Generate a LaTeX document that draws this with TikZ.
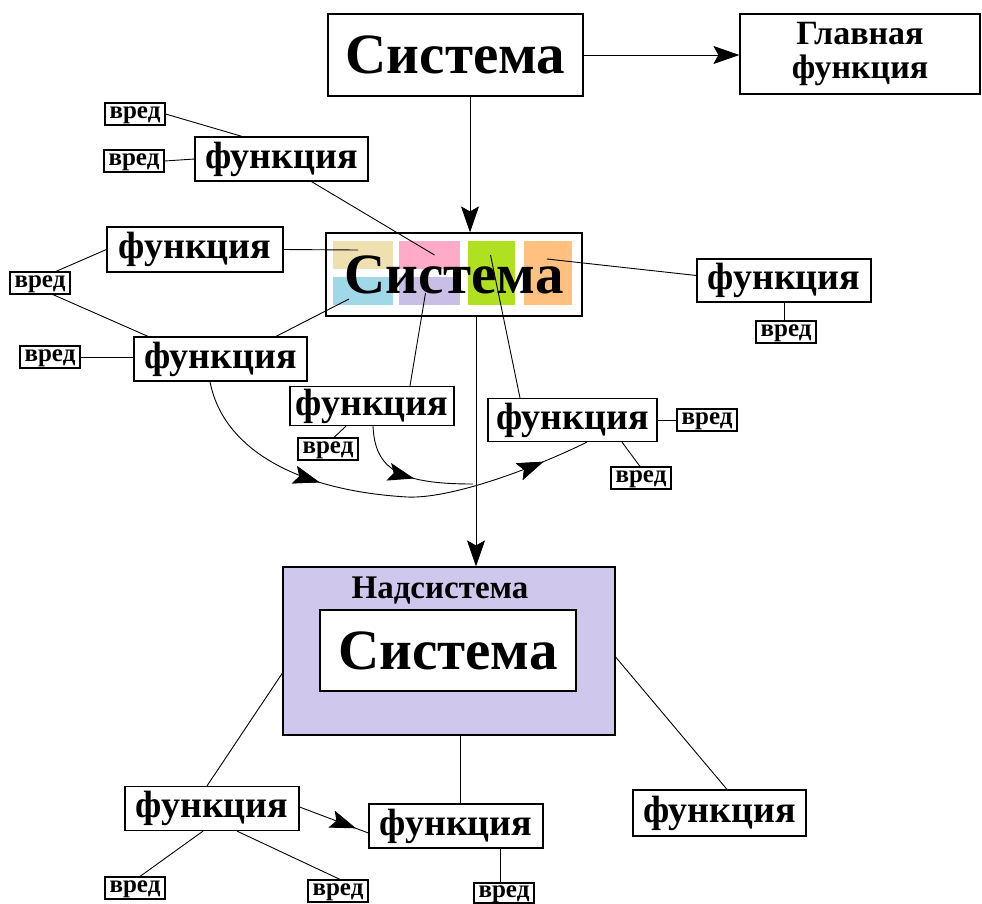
\documentclass[tikz,border=0pt]{standalone}
\usepackage{fontspec}
\setmainfont{Liberation Serif}
\usetikzlibrary{arrows.meta,calc,decorations.markings}

\definecolor{parttan}{RGB}{238,224,176}
\definecolor{partpink}{RGB}{255,170,200}
\definecolor{partgreen}{RGB}{176,224,32}
\definecolor{partorange}{RGB}{255,192,128}
\definecolor{partblue}{RGB}{160,216,232}
\definecolor{partlav}{RGB}{200,190,230}
\definecolor{superlav}{RGB}{208,200,236}

\tikzset{
  sysnode/.style={draw, line width=1.2pt, inner sep=0pt, font=\bfseries\fontsize{57}{60}\selectfont},
  funcnode/.style={draw, line width=1.2pt, inner sep=0pt, minimum width=173pt, minimum height=44pt, font=\bfseries\fontsize{38}{40}\selectfont},
  harmnode/.style={draw, line width=1.2pt, inner sep=0pt, minimum width=60pt, minimum height=22pt, text height=11pt, text depth=2pt, font=\bfseries\fontsize{25}{26}\selectfont},
  part/.style={inner sep=0pt, minimum height=28pt},
  link/.style={black, line width=0.9pt},
  bigtip/.style={-{Stealth[length=26pt, width=18pt, inset=5pt]}},
  midtip/.style={postaction={decorate}, decoration={markings, mark=at position #1 with {\arrow{Stealth[length=26pt, width=18pt, inset=5pt]}}}}
}

\begin{document}
\begin{tikzpicture}[x=1pt, y=-1pt]
  \useasboundingbox (0,0) rectangle (982,903);

  \node[sysnode, minimum width=255pt, minimum height=82pt] (sys) at (455.5,55) {Система};
  \node[draw, line width=1.2pt, minimum width=240pt, minimum height=80pt, align=center,
        font=\bfseries\fontsize{34}{34}\selectfont] (mainf) at (860,54) {Главная\\функция};

  \node[part, fill=parttan, minimum width=60pt] (ptan) at (363,255) {};
  \node[part, fill=partblue, minimum width=60pt] (pblue) at (363,291) {};
  \node[part, fill=partpink, minimum width=61pt] (ppink) at (429.5,255) {};
  \node[part, fill=partlav, minimum width=61pt] (plav) at (429.5,291) {};
  \node[part, fill=partgreen, minimum width=47pt, minimum height=64pt] (pgreen) at (491.5,273) {};
  \node[part, fill=partorange, minimum width=48pt, minimum height=64pt] (porange) at (548,273) {};
  \node[sysnode, minimum width=256pt, minimum height=83pt] (syscore) at (454,274.5) {Система};

  \node[funcnode] (f1) at (281.5,159) {функция};
  \node[funcnode, minimum width=176pt, minimum height=45pt] (f2) at (195,249.5) {функция};
  \node[funcnode] (f3) at (220.5,359) {функция};
  \node[funcnode, minimum width=164pt, minimum height=39pt] (f4) at (372,406) {функция};
  \node[funcnode, minimum width=169pt, minimum height=43pt] (f5) at (572.5,420) {функция};
  \node[funcnode, minimum width=174pt, minimum height=43pt] (f6) at (784,280.5) {функция};

  \node[harmnode] (h1a) at (135,114) {вред};
  \node[harmnode] (h1b) at (134,161) {вред};
  \node[harmnode] (h2) at (40,283) {вред};
  \node[harmnode] (h3) at (50,357) {вред};
  \node[harmnode] (h4) at (328,449) {вред};
  \node[harmnode] (h5a) at (707,420) {вред};
  \node[harmnode] (h5b) at (641,478) {вред};
  \node[harmnode] (h6) at (786,332) {вред};

  \node[draw, line width=1.2pt, fill=superlav, minimum width=332pt, minimum height=168pt] (super) at (449,651) {};
  \node[font=\bfseries\fontsize{33}{34}\selectfont] (supertitle) at (440,591) {Надсистема};
  \node[sysnode, fill=white, minimum width=256pt, minimum height=81pt] (sysin) at (448,650.5) {Система};

  \node[funcnode, minimum width=174pt] (f7) at (212,808.5) {функция};
  \node[funcnode, minimum width=174pt] (f8) at (456,826) {функция};
  \node[funcnode, minimum height=46pt] (f9) at (719.5,813) {функция};

  \node[harmnode] (h7a) at (135,888) {вред};
  \node[harmnode] (h7b) at (338,891) {вред};
  \node[harmnode, minimum height=20pt] (h8) at (504,893) {вред};

  \draw[link, bigtip] (sys.east) -- (sys.east -| mainf.west);
  \draw[link, bigtip] ([xshift=14.5pt]sys.south) -- ([xshift=16pt]syscore.north);
  \draw[link, bigtip] ([xshift=22pt]syscore.south) -- ([xshift=27pt]super.north);

  \draw[link] (h1a.east) -- ([xshift=-39.5pt]f1.north);
  \draw[link] (h1b.east) -- (f1.west);
  \draw[link] ([xshift=30pt]f1.south) -- ($(ppink.center)+(5,0)$);
  \draw[link] (f2.east) -- ($(ptan.center)+(-5,-5)$);
  \draw[link] ([xshift=16pt]h2.north) -- (f2.west);
  \draw[link] ([xshift=13pt]h2.south) -- ([xshift=-72.5pt]f3.north);
  \draw[link] (h3.east) -- (h3.east -| f3.west);
  \draw[link] ([xshift=55.5pt]f3.north) -- ($(pblue.center)+(-14,8)$);
  \draw[link] ([xshift=38pt]f4.north) -- ($(plav.center)+(-4,2)$);
  \draw[link] ([xshift=-26pt]f4.south) -- ([xshift=6pt]h4.north);
  \draw[link] ([xshift=-52.5pt]f5.north) -- ($(pgreen.center)+(-1,-18)$);
  \draw[link] (f5.east) -- (h5a.west);
  \draw[link] ([xshift=49.5pt]f5.south) -- ([xshift=-1pt]h5b.north);
  \draw[link] ([yshift=5pt]f6.west) -- ($(porange.center)+(-1,-14)$);
  \draw[link] (f6.south) -- (f6.south |- h6.north);

  \coordinate (meet) at (473,484);
  \draw[link, midtip=0.36, midtip=0.89] ([xshift=-10.5pt]f3.south) .. controls (222,445) and (290,490) .. (407,497)
    .. controls (450,499) and (530,470) .. ([xshift=14.5pt]f5.south);
  \draw[link, midtip=0.55] ([xshift=1pt]f4.south) .. controls (375,470) and (400,484) .. (meet);

  \draw[link] ([yshift=-22pt]super.west) -- ([xshift=-5pt]f7.north);
  \draw[link] ([yshift=-6pt]super.east) -- ([xshift=7.5pt]f9.north);
  \draw[link] ([xshift=11pt]super.south) -- ([xshift=11pt]super.south |- f8.north);
  \draw[link, midtip=0.82] ([yshift=1.5pt]f7.east) -- ([yshift=-7pt]f8.west);
  \draw[link] ([xshift=-9pt]f7.south) -- ([xshift=5pt]h7a.north);
  \draw[link] ([xshift=25pt]f7.south) -- ([xshift=2pt]h7b.north);
  \draw[link] ([xshift=44pt]f8.south) -- ([xshift=44pt]f8.south |- h8.north);
\end{tikzpicture}
\end{document}
